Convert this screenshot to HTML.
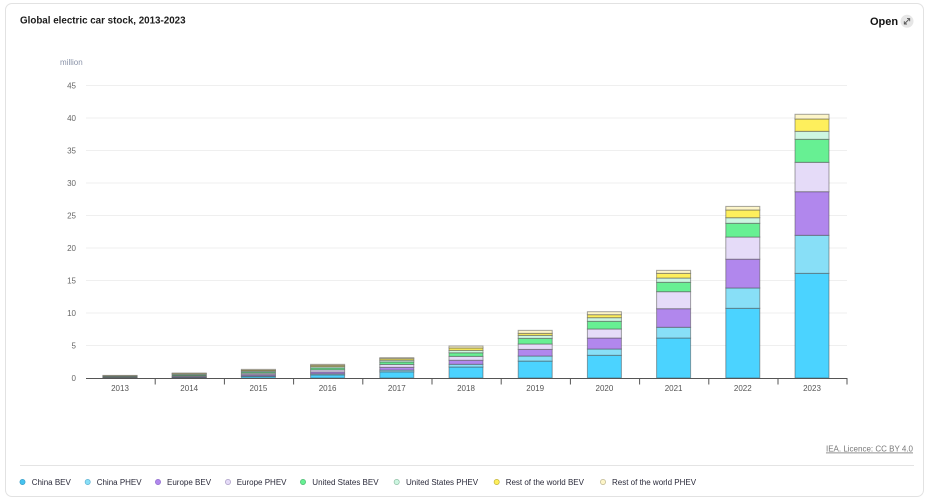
<!DOCTYPE html>
<html><head><meta charset="utf-8"><style>
html,body{margin:0;padding:0;background:#fff;}
body{width:933px;height:502px;overflow:hidden;position:relative;font-family:"Liberation Sans",sans-serif;}
.card{position:absolute;left:5px;top:3px;width:919px;height:494px;border:1px solid #e2e2e2;border-radius:7px;box-sizing:border-box;}
</style></head><body>
<div class="card"></div>
<svg width="933" height="502" style="position:absolute;left:0;top:0" xmlns="http://www.w3.org/2000/svg" font-family="Liberation Sans, sans-serif">
<text x="20" y="23.3" font-size="9.8" font-weight="bold" fill="#1c1c1c">Global electric car stock, 2013-2023</text>
<text x="870" y="25" font-size="11" font-weight="bold" fill="#111">Open</text>
<circle cx="907" cy="21.3" r="6.5" fill="#e6e6e6"/>
<path d="M904.3 24 L909.7 18.6 M907 18.6 H909.7 V21.3 M904.3 21.3 V24 H907" stroke="#555" stroke-width="0.9" fill="none"/>
<text x="60" y="65" font-size="8" fill="#8a93a8">million</text>
<g stroke="#efefef" stroke-width="1">
<line x1="86" x2="847" y1="85.5" y2="85.5"/><line x1="86" x2="847" y1="118" y2="118"/><line x1="86" x2="847" y1="150.5" y2="150.5"/><line x1="86" x2="847" y1="183" y2="183"/><line x1="86" x2="847" y1="215.5" y2="215.5"/><line x1="86" x2="847" y1="248" y2="248"/><line x1="86" x2="847" y1="280.5" y2="280.5"/><line x1="86" x2="847" y1="313" y2="313"/><line x1="86" x2="847" y1="345.5" y2="345.5"/>
</g>
<g font-size="8" fill="#666" text-anchor="end">
<text x="76" y="88.5">45</text><text x="76" y="121">40</text><text x="76" y="153.5">35</text><text x="76" y="186">30</text><text x="76" y="218.5">25</text><text x="76" y="251">20</text><text x="76" y="283.5">15</text><text x="76" y="316">10</text><text x="76" y="348.5">5</text><text x="76" y="381">0</text>
</g>
<g stroke="#4a4a4a" stroke-opacity="0.5" stroke-width="1">
<!-- 2013 -->
<rect x="103" y="377.9" width="34" height="0.1" fill="#4bd3ff"/>
<rect x="103" y="377.55" width="34" height="0.35" fill="#b187ed"/>
<rect x="103" y="377.16" width="34" height="0.39" fill="#e5dbf8"/>
<rect x="103" y="376.64" width="34" height="0.52" fill="#67f093"/>
<rect x="103" y="376.05" width="34" height="0.59" fill="#cdf6e1"/>
<rect x="103" y="375.73" width="34" height="0.32" fill="#feef5c"/>
<rect x="103" y="375.4" width="34" height="0.33" fill="#fdf5c8"/>
<!-- 2014 -->
<rect x="172.2" y="377.48" width="34" height="0.52" fill="#4bd3ff"/>
<rect x="172.2" y="377.29" width="34" height="0.19" fill="#88dff7"/>
<rect x="172.2" y="376.64" width="34" height="0.65" fill="#b187ed"/>
<rect x="172.2" y="375.86" width="34" height="0.78" fill="#e5dbf8"/>
<rect x="172.2" y="374.95" width="34" height="0.91" fill="#67f093"/>
<rect x="172.2" y="374.04" width="34" height="0.91" fill="#cdf6e1"/>
<rect x="172.2" y="373.52" width="34" height="0.52" fill="#feef5c"/>
<rect x="172.2" y="373.0" width="34" height="0.52" fill="#fdf5c8"/>
<!-- 2015 -->
<rect x="241.4" y="376.38" width="34" height="1.62" fill="#4bd3ff"/>
<rect x="241.4" y="375.86" width="34" height="0.52" fill="#88dff7"/>
<rect x="241.4" y="374.62" width="34" height="1.24" fill="#b187ed"/>
<rect x="241.4" y="373.19" width="34" height="1.43" fill="#e5dbf8"/>
<rect x="241.4" y="371.89" width="34" height="1.3" fill="#67f093"/>
<rect x="241.4" y="370.85" width="34" height="1.04" fill="#cdf6e1"/>
<rect x="241.4" y="370.0" width="34" height="0.85" fill="#feef5c"/>
<rect x="241.4" y="369.36" width="34" height="0.64" fill="#fdf5c8"/>
<!-- 2016 -->
<rect x="310.6" y="374.88" width="34" height="3.12" fill="#4bd3ff"/>
<rect x="310.6" y="373.78" width="34" height="1.1" fill="#88dff7"/>
<rect x="310.6" y="371.96" width="34" height="1.82" fill="#b187ed"/>
<rect x="310.6" y="369.81" width="34" height="2.15" fill="#e5dbf8"/>
<rect x="310.6" y="367.93" width="34" height="1.88" fill="#67f093"/>
<rect x="310.6" y="366.56" width="34" height="1.37" fill="#cdf6e1"/>
<rect x="310.6" y="365.33" width="34" height="1.23" fill="#feef5c"/>
<rect x="310.6" y="364.35" width="34" height="0.98" fill="#fdf5c8"/>
<!-- 2017 -->
<rect x="379.8" y="371.83" width="34" height="6.17" fill="#4bd3ff"/>
<rect x="379.8" y="370.07" width="34" height="1.76" fill="#88dff7"/>
<rect x="379.8" y="367.34" width="34" height="2.73" fill="#b187ed"/>
<rect x="379.8" y="364.42" width="34" height="2.92" fill="#e5dbf8"/>
<rect x="379.8" y="361.95" width="34" height="2.47" fill="#67f093"/>
<rect x="379.8" y="360.19" width="34" height="1.76" fill="#cdf6e1"/>
<rect x="379.8" y="358.70" width="34" height="1.49" fill="#feef5c"/>
<rect x="379.8" y="357.66" width="34" height="1.04" fill="#fdf5c8"/>
<!-- 2018 -->
<rect x="449" y="367.02" width="34" height="10.98" fill="#4bd3ff"/>
<rect x="449" y="364.29" width="34" height="2.73" fill="#88dff7"/>
<rect x="449" y="360.26" width="34" height="4.03" fill="#b187ed"/>
<rect x="449" y="356.36" width="34" height="3.9" fill="#e5dbf8"/>
<rect x="449" y="352.78" width="34" height="3.58" fill="#67f093"/>
<rect x="449" y="350.38" width="34" height="2.4" fill="#cdf6e1"/>
<rect x="449" y="347.97" width="34" height="2.41" fill="#feef5c"/>
<rect x="449" y="346.02" width="34" height="1.95" fill="#fdf5c8"/>
<!-- 2019 -->
<rect x="518.2" y="361.1" width="34" height="16.9" fill="#4bd3ff"/>
<rect x="518.2" y="356.03" width="34" height="5.07" fill="#88dff7"/>
<rect x="518.2" y="349.4" width="34" height="6.63" fill="#b187ed"/>
<rect x="518.2" y="344.0" width="34" height="5.4" fill="#e5dbf8"/>
<rect x="518.2" y="338.35" width="34" height="5.65" fill="#67f093"/>
<rect x="518.2" y="335.36" width="34" height="2.99" fill="#cdf6e1"/>
<rect x="518.2" y="333.35" width="34" height="2.01" fill="#feef5c"/>
<rect x="518.2" y="330.36" width="34" height="2.99" fill="#fdf5c8"/>
<!-- 2020 -->
<rect x="587.4" y="355.32" width="34" height="22.68" fill="#4bd3ff"/>
<rect x="587.4" y="349.01" width="34" height="6.31" fill="#88dff7"/>
<rect x="587.4" y="338.03" width="34" height="10.98" fill="#b187ed"/>
<rect x="587.4" y="328.99" width="34" height="9.04" fill="#e5dbf8"/>
<rect x="587.4" y="321.32" width="34" height="7.67" fill="#67f093"/>
<rect x="587.4" y="317.68" width="34" height="3.64" fill="#cdf6e1"/>
<rect x="587.4" y="314.69" width="34" height="2.99" fill="#feef5c"/>
<rect x="587.4" y="311.7" width="34" height="2.99" fill="#fdf5c8"/>
<!-- 2021 -->
<rect x="656.6" y="338.03" width="34" height="39.97" fill="#4bd3ff"/>
<rect x="656.6" y="327.3" width="34" height="10.73" fill="#88dff7"/>
<rect x="656.6" y="308.71" width="34" height="18.59" fill="#b187ed"/>
<rect x="656.6" y="291.68" width="34" height="17.03" fill="#e5dbf8"/>
<rect x="656.6" y="282.32" width="34" height="9.36" fill="#67f093"/>
<rect x="656.6" y="278.03" width="34" height="4.29" fill="#cdf6e1"/>
<rect x="656.6" y="273.35" width="34" height="4.68" fill="#feef5c"/>
<rect x="656.6" y="270.36" width="34" height="2.99" fill="#fdf5c8"/>
<!-- 2022 -->
<rect x="725.8" y="308.32" width="34" height="69.68" fill="#4bd3ff"/>
<rect x="725.8" y="287.98" width="34" height="20.34" fill="#88dff7"/>
<rect x="725.8" y="259.18" width="34" height="28.8" fill="#b187ed"/>
<rect x="725.8" y="237.02" width="34" height="22.16" fill="#e5dbf8"/>
<rect x="725.8" y="223.3" width="34" height="13.72" fill="#67f093"/>
<rect x="725.8" y="217.71" width="34" height="5.59" fill="#cdf6e1"/>
<rect x="725.8" y="209.98" width="34" height="7.73" fill="#feef5c"/>
<rect x="725.8" y="206.4" width="34" height="3.58" fill="#fdf5c8"/>
<!-- 2023 -->
<rect x="795" y="273.35" width="34" height="104.65" fill="#4bd3ff"/>
<rect x="795" y="235.33" width="34" height="38.02" fill="#88dff7"/>
<rect x="795" y="191.71" width="34" height="43.62" fill="#b187ed"/>
<rect x="795" y="162.33" width="34" height="29.38" fill="#e5dbf8"/>
<rect x="795" y="139.32" width="34" height="23.01" fill="#67f093"/>
<rect x="795" y="131.33" width="34" height="7.99" fill="#cdf6e1"/>
<rect x="795" y="118.98" width="34" height="12.35" fill="#feef5c"/>
<rect x="795" y="114.3" width="34" height="4.68" fill="#fdf5c8"/>
</g>
<line x1="86" x2="847.5" y1="378.5" y2="378.5" stroke="#555" stroke-width="1"/>
<g stroke="#555" stroke-width="1">
<line x1="155.2" x2="155.2" y1="378" y2="384.5"/><line x1="224.4" x2="224.4" y1="378" y2="384.5"/><line x1="293.6" x2="293.6" y1="378" y2="384.5"/><line x1="362.8" x2="362.8" y1="378" y2="384.5"/><line x1="432" x2="432" y1="378" y2="384.5"/><line x1="501.2" x2="501.2" y1="378" y2="384.5"/><line x1="570.4" x2="570.4" y1="378" y2="384.5"/><line x1="639.6" x2="639.6" y1="378" y2="384.5"/><line x1="708.8" x2="708.8" y1="378" y2="384.5"/><line x1="778" x2="778" y1="378" y2="384.5"/><line x1="847" x2="847" y1="378" y2="384.5"/>
</g>
<g font-size="8" fill="#555" text-anchor="middle">
<text x="120" y="391">2013</text><text x="189.2" y="391">2014</text><text x="258.4" y="391">2015</text><text x="327.6" y="391">2016</text><text x="396.8" y="391">2017</text><text x="466" y="391">2018</text><text x="535.2" y="391">2019</text><text x="604.4" y="391">2020</text><text x="673.6" y="391">2021</text><text x="742.8" y="391">2022</text><text x="812" y="391">2023</text>
</g>
<text x="913" y="451.5" font-size="8" fill="#777" text-anchor="end" text-decoration="underline">IEA. Licence: CC BY 4.0</text>
<line x1="20" x2="914" y1="465.5" y2="465.5" stroke="#e4e4e4" stroke-width="1"/>
<g font-size="8" fill="#2a2a3a">
<circle cx="22.5" cy="482" r="2.6" fill="#45c3f0" stroke="#3a9fc8" stroke-width="0.7"/><text x="31.7" y="485">China BEV</text>
<circle cx="87.7" cy="482" r="2.6" fill="#88dff7" stroke="#5fb3d3" stroke-width="0.7"/><text x="96.7" y="485">China PHEV</text>
<circle cx="158" cy="482" r="2.6" fill="#b187ed" stroke="#8f6ccc" stroke-width="0.7"/><text x="167" y="485">Europe BEV</text>
<circle cx="228" cy="482" r="2.6" fill="#e5dbf8" stroke="#a99cc4" stroke-width="0.7"/><text x="236.7" y="485">Europe PHEV</text>
<circle cx="303" cy="482" r="2.6" fill="#67f093" stroke="#4cb870" stroke-width="0.7"/><text x="312.3" y="485">United States BEV</text>
<circle cx="396.7" cy="482" r="2.6" fill="#cdf6e1" stroke="#8fbfa5" stroke-width="0.7"/><text x="406" y="485">United States PHEV</text>
<circle cx="496.7" cy="482" r="2.6" fill="#feef5c" stroke="#c2b43a" stroke-width="0.7"/><text x="505.7" y="485">Rest of the world BEV</text>
<circle cx="603" cy="482" r="2.6" fill="#fdf5c8" stroke="#bdb590" stroke-width="0.7"/><text x="612" y="485">Rest of the world PHEV</text>
</g>
</svg>
</body></html>
